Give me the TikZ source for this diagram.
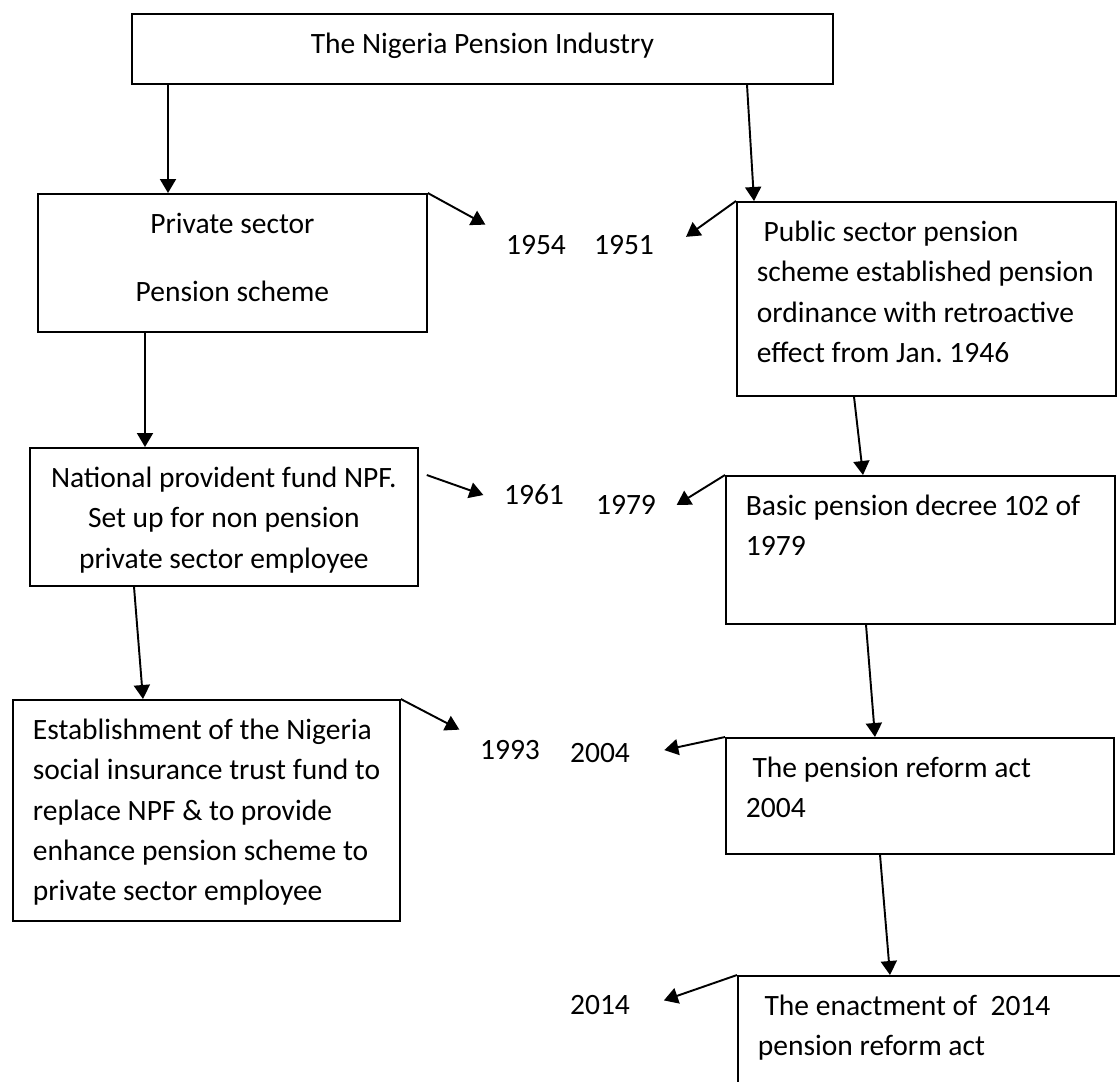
\documentclass[tikz,border=0pt]{standalone}
\usepackage{fontspec}
\setmainfont{Carlito}
\frenchspacing
\usetikzlibrary{arrows.meta, positioning}
\newcommand{\lefttext}[3]{\hspace{2mm}\parbox[t][#1][t]{#2}{\raggedright\strut #3}}
\newcommand{\midtext}[3]{\parbox[t][#1][t]{#2}{\centering\strut #3}}
\tikzset{
    box/.style = {draw, line width=0.5pt, anchor=north west, inner xsep=0pt, inner ysep=1.1mm, font=\fontsize{8.4}{11.5}\selectfont},
    year/.style = {inner xsep=2mm, inner ysep=1mm, font=\fontsize{8.4}{11.5}\selectfont},
    link/.style = {line width=0.55pt, -{Triangle[length=1.4mm, width=1.6mm]}},
    back/.style = {link, shorten >=1.4mm}
}

\begin{document}
\begin{tikzpicture}[x=0.1mm, y=-0.1mm]
  \useasboundingbox (0,0) rectangle (1120,1081);

  \node[box] (top) at (131,13) {\midtext{4.8mm}{70.1mm}{The Nigeria Pension Industry}};
  \node[box] (priv) at (37,193) {\midtext{11.6mm}{38.9mm}{Private sector\\[2.8mm]Pension scheme}};
  \node[box] (pub) at (736,201) {\lefttext{17.2mm}{35.9mm}{\ Public sector pension\\scheme established pension\\ordinance with retroactive\\effect from Jan. 1946}};
  \node[box] (npf) at (29,447) {\midtext{11.6mm}{38.8mm}{National provident fund NPF.\\Set up for non pension\\private sector employee}};
  \node[box] (basic) at (725,475) {\lefttext{12.6mm}{36.9mm}{Basic pension decree 102 of\\1979}};
  \node[box] (estab) at (12,699) {\lefttext{19.9mm}{36.7mm}{Establishment of the Nigeria\\social insurance trust fund to\\replace NPF \& to provide\\enhance pension scheme to\\private sector employee}};
  \node[box] (reform) at (725,737) {\lefttext{9.4mm}{36.8mm}{\ The pension reform act\\2004}};
  \node[box] (enact) at (737,975) {\lefttext{12.8mm}{37mm}{\ The enactment of\ \ 2014\\pension reform act}};

  \node[year] (y1954) at (536,245) {1954};
  \node[year] (y1951) at (624,245) {1951};
  \node[year] (y1961) at (534,495) {1961};
  \node[year] (y1979) at (626,505) {1979};
  \node[year] (y1993) at (510,750) {1993};
  \node[year] (y2004) at (600,753) {2004};
  \node[year] (y2014) at (600,1005) {2014};

  \draw[link] ([xshift=3.7mm]top.south west) -- ([xshift=13.1mm]priv.north west);
  \draw[link] ([xshift=61.6mm]top.south west) -- ([xshift=1.8mm]pub.north west);
  \draw[link] ([xshift=10.8mm]priv.south west) -- ([xshift=11.6mm]npf.north west);
  \draw[link] ([xshift=10.5mm]npf.south west) -- ([xshift=13.1mm]estab.north west);
  \draw[link] ([xshift=11.8mm]pub.south west) -- ([xshift=13.8mm]basic.north west);
  \draw[link] ([xshift=14.1mm]basic.south west) -- ([xshift=15mm]reform.north west);
  \draw[link] ([xshift=15.5mm]reform.south west) -- ([xshift=15.3mm]enact.north west);

  \draw[link] (priv.north east) -- (y1954.north west);
  \draw[back] (pub.north west) -- (y1951.east);
  \draw[link] ([xshift=.8mm, yshift=-2.8mm]npf.north east) -- (y1961.west);
  \draw[link] (basic.north west) -- (y1979.east);
  \draw[link] (estab.north east) -- (y1993.north west);
  \draw[back] (reform.north west) -- (y2004.east);
  \draw[back] (enact.north west) -- (y2014.east);
\end{tikzpicture}
\end{document}
